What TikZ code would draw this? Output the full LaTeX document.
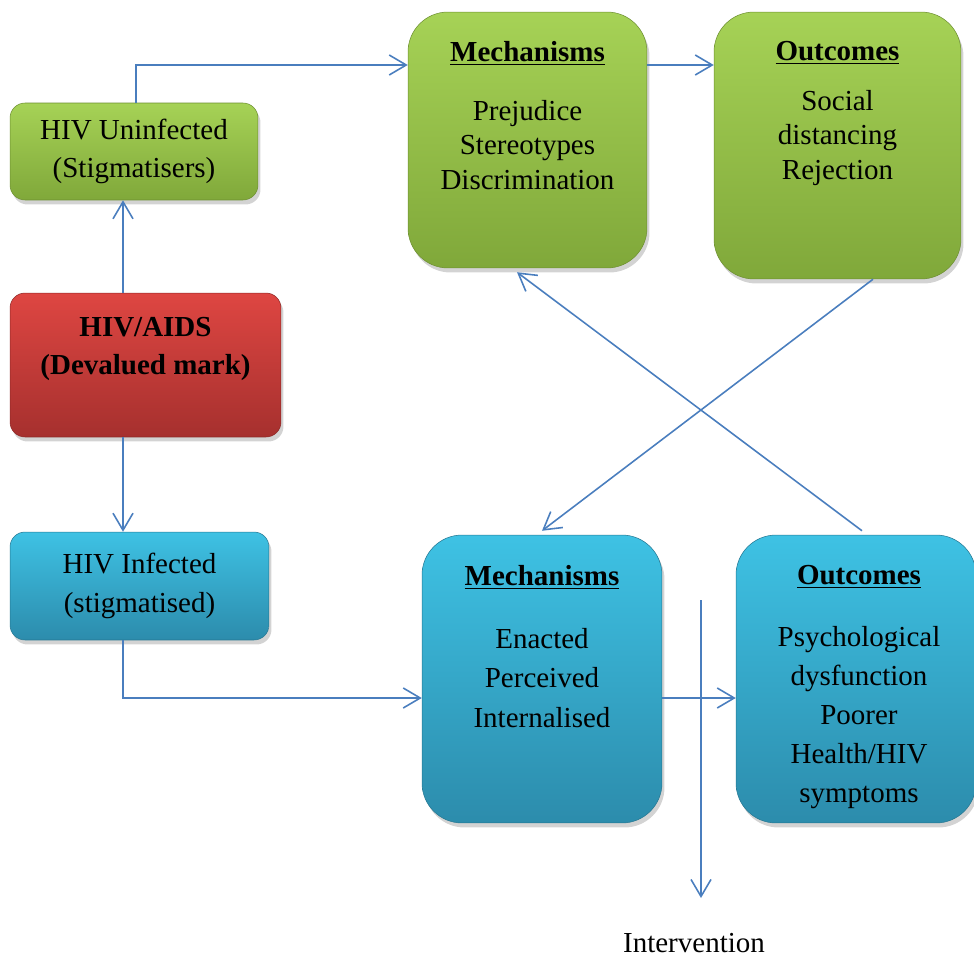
\documentclass[tikz,border=0pt]{standalone}
\usepackage{fontspec}
\setmainfont{Liberation Serif}
\usetikzlibrary{arrows.meta,shadows}
\definecolor{greenT}{RGB}{166,210,86}
\definecolor{greenB}{RGB}{128,168,58}
\definecolor{redT}{RGB}{222,70,66}
\definecolor{redB}{RGB}{166,48,46}
\definecolor{blueT}{RGB}{62,194,228}
\definecolor{blueB}{RGB}{44,140,172}
\definecolor{linkblue}{RGB}{74,126,190}
\tikzset{
    box/.style={rounded corners=0.3cm, align=center, inner sep=0pt,
        font=\fontsize{16.5}{22}\selectfont,
        drop shadow={shadow xshift=0.05cm, shadow yshift=-0.09cm, opacity=0.35}},
    bigbox/.style={box, rounded corners=0.8cm},
    greenbox/.style={top color=greenT, bottom color=greenB, draw=greenB!85!black, line width=0.3pt},
    redbox/.style={top color=redT, bottom color=redB, draw=redB!85!black, line width=0.3pt},
    bluebox/.style={top color=blueT, bottom color=blueB, draw=blueB!85!black, line width=0.3pt},
    title/.style={font=\fontsize{16.5}{20}\selectfont\bfseries},
    body/.style={align=center, inner sep=0pt},
    link/.style={draw=linkblue, line width=0.9pt, -{Straight Barb[length=0.34cm,width=0.4cm]}}
}
\begin{document}
\begin{tikzpicture}[x=0.02cm, y=-0.02cm]
        \useasboundingbox (0,0) rectangle (974,960);

        \node[box, greenbox, minimum width=4.96cm, minimum height=1.94cm] (unG) at (134,151.5) {HIV Uninfected\\(Stigmatisers)};
        \node[box, redbox, minimum width=5.42cm, minimum height=2.88cm, font=\fontsize{16.5}{21.6}\selectfont\bfseries, text depth=0.75cm] (aids) at (145.5,365) {HIV/AIDS\\(Devalued mark)};
        \node[box, bluebox, minimum width=5.18cm, minimum height=2.16cm] (inf) at (139.5,586) {HIV Infected\\(stigmatised)};

        \node[bigbox, greenbox, minimum width=4.78cm, minimum height=5.12cm] (mechG) at (527.5,140) {};
        \node[bigbox, greenbox, minimum width=4.94cm, minimum height=5.34cm] (outG) at (837.5,145.5) {};
        \node[bigbox, bluebox, minimum width=4.8cm, minimum height=5.76cm] (mechB) at (542,679) {};
        \node[bigbox, bluebox, minimum width=4.8cm, minimum height=5.76cm] (outB) at (856,679) {};

        \node[title] (mechGt) at (527.5,53) {\underline{Mechanisms}};
        \node[body, font=\fontsize{16.5}{19.6}\selectfont] (mechGb) at (527.5,145) {Prejudice\\Stereotypes\\Discrimination};
        \node[title] (outGt) at (837.5,53) {\underline{Outcomes}};
        \node[body, font=\fontsize{16.5}{19.6}\selectfont] (outGb) at (837.5,138) {Social\\distancing\\Rejection};
        \node[title] (mechBt) at (542,577) {\underline{Mechanisms}};
        \node[body, font=\fontsize{16.5}{22.4}\selectfont] (mechBb) at (542,678) {Enacted\\Perceived\\Internalised};
        \node[title] (outBt) at (859,577) {\underline{Outcomes}};
        \node[body, font=\fontsize{16.5}{22.2}\selectfont] (outBb) at (859,718) {Psychological\\dysfunction\\Poorer\\Health/HIV\\symptoms};

        \node[font=\fontsize{16.5}{20}\selectfont] (interv) at (694,943) {Intervention};

        \coordinate (colL) at (123,0);
        \coordinate (rowG) at (0,65);
        \coordinate (rowB) at (0,698);
        \coordinate (ivtop) at (701,600);
        \coordinate (ivend) at (701,898);

        \draw[link] (unG.north -| 136,0) |- (mechG.west |- rowG);
        \draw[link] (mechG.east |- rowG) -- (outG.west |- rowG);
        \draw[link] (aids.north -| colL) -- (unG.south -| colL);
        \draw[link] (aids.south -| colL) -- (inf.north -| colL);
        \draw[link] (inf.south -| colL) |- (mechB.west |- rowB);
        \draw[link] (mechB.east |- rowB) -- (outB.west |- rowB);
        \draw[link] ([xshift=0.71cm]outG.south) -- ([yshift=0.08cm]mechB.north);
        \draw[link] ([xshift=0.12cm, yshift=0.08cm]outB.north) -- ([xshift=-0.21cm, yshift=-0.08cm]mechG.south);
        \draw[link] (ivtop) -- (ivend);
    \end{tikzpicture}
\end{document}
